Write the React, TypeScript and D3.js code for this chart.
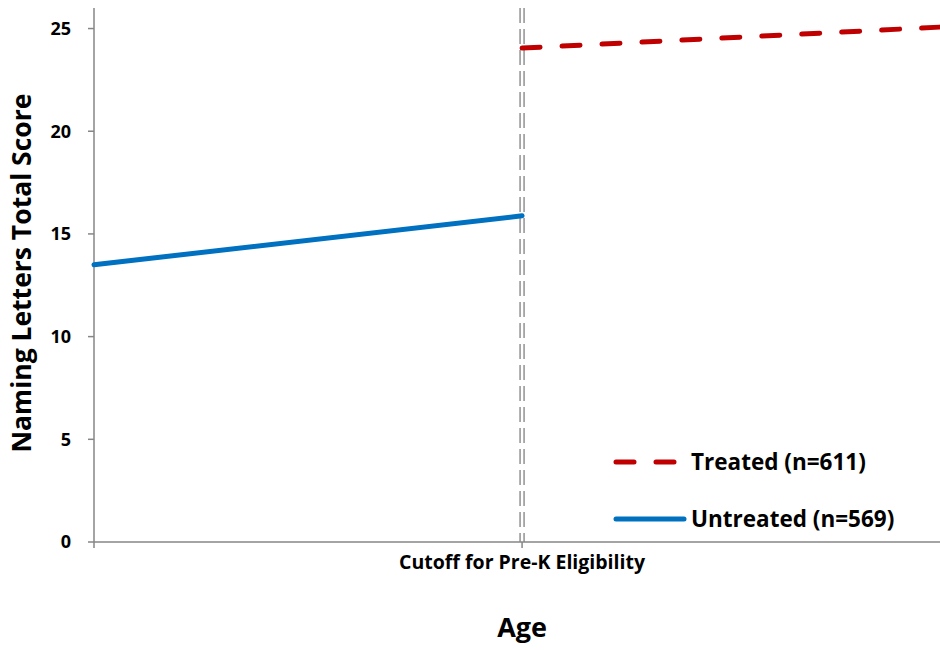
import React from "react";
import * as d3 from "d3";

const yTicks = [0, 5, 10, 15, 20, 25];
const cutoff = 50.6;
const xTickLabel = "Cutoff for Pre-K Eligibility";
const untreatedX = [0, 50.6];
const untreatedY = [13.5, 15.88];
const treatedX = [50.6, 100];
const treatedY = [24.05, 25.07];
const seriesNames = ["Treated (n=611)", "Untreated (n=569)"];

const W = 940, H = 650;
const FONT = "'Open Sans', 'DejaVu Sans', sans-serif";

export default function App() {
  const x = d3.scaleLinear().domain([0, 100]).range([94, 940]);
  const y = d3.scaleLinear().domain([0, 26]).range([542, 8]);
  const line = d3.line<[number, number]>().x(d => x(d[0])).y(d => y(d[1]));
  const untreated = untreatedX.map((v, i) => [v, untreatedY[i]] as [number, number]);
  const treated = treatedX.map((v, i) => [v, treatedY[i]] as [number, number]);
  const cx = x(cutoff);
  return (
    <svg width={W} height={H} style={{ position: "absolute", left: 0, top: 0, background: "#fff" }}>
      <line x1={cx - 2} x2={cx - 2} y1={y(26)} y2={y(0)} stroke="#999" strokeWidth={1.6} strokeDasharray="15,6" />
      <line x1={cx + 2} x2={cx + 2} y1={y(26)} y2={y(0)} stroke="#999" strokeWidth={1.6} strokeDasharray="15,6" />
      <line x1={x(0)} x2={x(0)} y1={y(26)} y2={y(0) + 6} stroke="#868686" strokeWidth={1.5} />
      <line x1={x(0)} x2={x(100)} y1={y(0)} y2={y(0)} stroke="#868686" strokeWidth={1.5} />
      <line x1={cx} x2={cx} y1={y(0)} y2={y(0) + 6} stroke="#868686" strokeWidth={1.5} />
      {yTicks.map(t => (
        <g key={t}>
          <line x1={x(0) - 6} x2={x(0)} y1={y(t)} y2={y(t)} stroke="#868686" strokeWidth={1.5} />
          <text x={x(0) - 23} y={y(t)} dy="0.35em" textAnchor="end" fontFamily={FONT} fontWeight="bold" fontSize={18}>{t}</text>
        </g>
      ))}
      <text x={cx} y={562} dy="0.35em" textAnchor="middle" fontFamily={FONT} fontWeight="bold" fontSize={19.5}>{xTickLabel}</text>
      <text x={cx} y={628} dy="0.35em" textAnchor="middle" fontFamily={FONT} fontWeight="bold" fontSize={27}>Age</text>
      <text transform={`translate(22,${273}) rotate(-90)`} dy="0.35em" textAnchor="middle" fontFamily={FONT} fontWeight="bold" fontSize={26.5}>Naming Letters Total Score</text>
      <path d={line(untreated) || ""} fill="none" stroke="#0070C0" strokeWidth={5} strokeLinecap="round" />
      <path d={line(treated) || ""} fill="none" stroke="#C00000" strokeWidth={5} strokeLinecap="round" strokeDasharray="18,22" />
      <line x1={616} x2={684} y1={462} y2={462} stroke="#C00000" strokeWidth={5} strokeLinecap="round" strokeDasharray="18,22" />
      <text x={691} y={462} dy="0.35em" fontFamily={FONT} fontWeight="bold" fontSize={22.5}>{seriesNames[0]}</text>
      <line x1={616} x2={684} y1={519} y2={519} stroke="#0070C0" strokeWidth={5} strokeLinecap="round" />
      <text x={691} y={519} dy="0.35em" fontFamily={FONT} fontWeight="bold" fontSize={22.5}>{seriesNames[1]}</text>
    </svg>
  );
}
